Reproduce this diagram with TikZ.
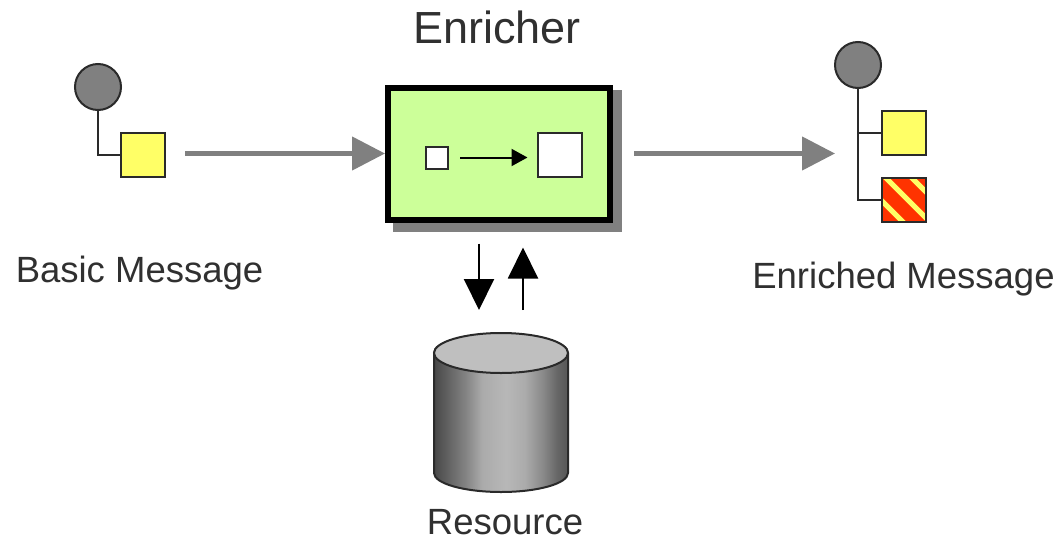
\documentclass[tikz,border=0pt]{standalone}
\usepackage{fontspec}
\setmainfont{Liberation Sans}
\usetikzlibrary{arrows.meta}
\definecolor{msgyellow}{HTML}{FFFF66}
\definecolor{boxgreen}{HTML}{CCFF99}
\definecolor{flowgray}{HTML}{808080}
\definecolor{stripered}{HTML}{FF3300}
\definecolor{inkdark}{HTML}{2A2A2A}
\definecolor{labelink}{HTML}{303030}
\pgfdeclarehorizontalshading{cylshade}{100bp}{
 color(0bp)=(black!70);
 color(25bp)=(black!72);
 color(30bp)=(black!62);
 color(37bp)=(black!48);
 color(43bp)=(black!33);
 color(52bp)=(black!28);
 color(59bp)=(black!33);
 color(66bp)=(black!47);
 color(71bp)=(black!60);
 color(75bp)=(black!66);
 color(100bp)=(black!66)}
\tikzset{
 x=1pt,y=-1pt,
 msgsq/.style={draw=inkdark,line width=2pt,fill=msgyellow,minimum size=44pt,inner sep=0pt,outer sep=0pt},
 whitesq/.style={draw=inkdark,line width=2pt,fill=white,inner sep=0pt,outer sep=0pt},
 hdr/.style={circle,draw=inkdark,line width=2pt,fill=flowgray,minimum size=46pt,inner sep=0pt,outer sep=0pt},
 tree/.style={draw=inkdark,line width=2pt,line join=miter},
 flow/.style={draw=flowgray,line width=4.5pt,-{Triangle[length=33pt,width=33pt]}},
 blackarrow/.style={draw=black,line width=2pt,-{Triangle[length=31pt,width=30pt]}},
 lbl/.style={inner sep=0pt,outer sep=0pt,text=labelink,font=\fontsize{36.5}{40}\selectfont},
 title/.style={inner sep=0pt,outer sep=0pt,text=labelink,font=\fontsize{45}{50}\selectfont}
}
\begin{document}
\begin{tikzpicture}
\useasboundingbox (0,0) rectangle (1060,538);
\fill[white] (0,0) rectangle (1060,538);
% title
\node[title,anchor=base] (titleE) at (497,43) {Enricher};
% left message
\node[hdr] (hdrL) at (98,87) {};
\node[msgsq] (sqL) at (143,154.5) {};
\draw[tree] (hdrL.south) |- (sqL.west);
\node[lbl,anchor=base] (lblL) at (139.5,282) {Basic Message};
% enricher box
\fill[flowgray] (393,90) rectangle (622,232);
\node[draw=black,line width=6pt,fill=boxgreen,minimum width=222pt,minimum height=132pt,inner sep=0pt,outer sep=3pt] (box) at (499,153.5) {};
\node[whitesq,minimum width=22pt,minimum height=22pt] (small) at (437,157.5) {};
\node[whitesq,minimum width=44pt,minimum height=44pt] (big) at (559.5,154.5) {};
\draw[draw=black,line width=2pt,-{Triangle[length=16pt,width=17pt]},shorten <=12pt,shorten >=10pt] (small.east) -- (big.west |- small.east);
% flow arrows
\draw[flow,shorten <=20pt] (sqL.east |- box.west) -- (box.west);
\coordinate (enrichIn) at (835,153.5);
\draw[flow,shorten <=21pt] (box.east) -- (enrichIn);
% resource
\node[inner sep=0pt,outer sep=0pt,minimum width=134pt,minimum height=159pt] (res) at (501,412.5) {};
\path[shading=cylshade,draw=inkdark,line width=2pt]
 (434,353) -- (434,473) arc[start angle=180,end angle=360,x radius=67,y radius=-19] -- (568,353)
 arc[start angle=0,end angle=180,x radius=67,y radius=-19] -- cycle;
\draw[draw=inkdark,line width=2pt,fill=black!25] (501,353) ellipse[x radius=67,y radius=20];
\node[lbl,anchor=base] (lblR) at (505,534) {Resource};
% arrows to resource
\draw[blackarrow,shorten <=21pt,shorten >=23pt] ([xshift=-20pt]box.south) -- ([xshift=-22pt]res.north);
\draw[blackarrow,shorten <=23pt,shorten >=25pt] ([xshift=22pt]res.north) -- ([xshift=24pt]box.south);
% right message
\node[hdr] (hdrR) at (858,65) {};
\node[msgsq] (sqA) at (904,133) {};
\node[msgsq,fill=stripered] (sqB) at (904,199.5) {};
\begin{scope}
 \clip (sqB.south west) rectangle (sqB.north east);
 \foreach \c in {-23,4,30}
  \draw[msgyellow,line width=5pt] (881+\c,177) -- (881+\c+46,223);
\end{scope}
\draw[draw=inkdark,line width=2pt] (sqB.south west) rectangle (sqB.north east);
\draw[tree] (hdrR.south) |- (sqB.west);
\draw[tree] (hdrR.south |- sqA.west) -- (sqA.west);
\node[lbl,anchor=base] (lblE) at (903.5,288) {Enriched Message};
\end{tikzpicture}
\end{document}
